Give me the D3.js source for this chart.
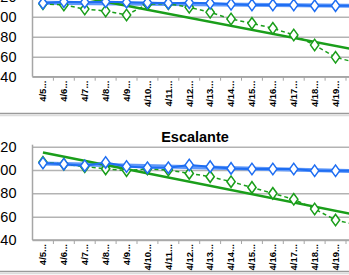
<!DOCTYPE html>
<html>
<head>
<meta charset="utf-8">
<script src="https://cdn.jsdelivr.net/npm/d3@7"></script>
<style>
  html, body { margin: 0; padding: 0; background: #fff; overflow: hidden; }
  svg { display: block; }
  .chart text { font-family: "Liberation Sans", Arial, sans-serif; }
</style>
</head>
<body>
<svg class="chart" width="349" height="275"></svg>
<script>
// categories (the labels are shown truncated, as in the sheet)
var categories = ["4/5", "4/6", "4/7", "4/8", "4/9", "4/10", "4/11", "4/12",
                  "4/13", "4/14", "4/15", "4/16", "4/17", "4/18", "4/19", "4/20"];
var yTicks = [40, 60, 80, 100, 120];

// top panel (title cut off)
var topBlue  = [113.4, 115, 114.5, 115, 114.5, 114, 113.5, 114, 113.4, 112.4, 111.7, 111.7, 111.7, 111, 111, 111];
var topGreen = [113, 111.7, 107.7, 105.7, 101.7, 112.5, 113, 109.4, 104.4, 97.7, 93.4, 88.4, 81.7, 71.7, 59.4, 54];
var topBlueTrend  = [114, 110.8];   // value at first / last category
var topGreenTrend = [127, 66.8];

// Escalante
var escBlue  = [106, 105, 103.7, 106.5, 103, 102, 102, 104.3, 102.9, 101.4, 100.9, 100.9, 100.9, 99.4, 99.4, 99.2];
var escGreen = [106.6, 105, 102.9, 101, 99.5, 101, 100, 97.1, 94.3, 90, 85.1, 80, 74.9, 66.6, 57.1, 53];
var escBlueTrend  = [105.5, 99];
var escGreenTrend = [115, 61.5];

var blue = "#1f6ef2", blueLight = "#5f98fa";
var green = "#1a9e1a";

var svg = d3.select(".chart");

function doChart(opts) {
	var margin = {left: 32.5};
	var bandW = 20.9;

	var x = d3.scaleBand()
		.domain(categories)
		.range([margin.left, margin.left + bandW * categories.length]);

	var y = d3.scaleLinear()
		.domain([40, 120])
		.range([opts.bottom, opts.top]);

	var g = svg.append("g");

	var clipId = "clip" + opts.id;
	g.append("clipPath").attr("id", clipId)
		.append("rect")
		.attr("x", margin.left).attr("y", opts.top)
		.attr("width", 400).attr("height", opts.bottom - opts.top);

	// gridlines + y labels
	g.append("g")
		.attr("transform", `translate(${margin.left},0)`)
		.call(d3.axisLeft(y).tickValues(yTicks).tickSize(0).tickPadding(16))
		.call(g => g.select(".domain").remove())
		.call(g => g.selectAll("text").attr("font-size", 14.5).attr("fill", "#000")
			.attr("font-family", "Liberation Sans, Arial, sans-serif"))
		.call(g => g.selectAll(".tick").append("line")
			.attr("x2", 400).attr("stroke", "#b3b3b3").attr("stroke-width", 1.5));

	// y axis line
	g.append("line")
		.attr("x1", margin.left).attr("x2", margin.left)
		.attr("y1", opts.top - 2).attr("y2", opts.bottom)
		.attr("stroke", "#a6a6a6").attr("stroke-width", 1.5);

	// x axis: ticks between categories, rotated labels
	var xg = g.append("g").attr("transform", `translate(0,${opts.bottom})`);
	xg.append("line").attr("x1", margin.left).attr("x2", 400)
		.attr("stroke", "#a6a6a6").attr("stroke-width", 1.5);
	xg.selectAll("line.tk").data(categories).enter().append("line")
		.attr("class", "tk")
		.attr("x1", d => x(d) + bandW).attr("x2", d => x(d) + bandW)
		.attr("y1", 0).attr("y2", 4)
		.attr("stroke", "#a6a6a6").attr("stroke-width", 1);
	xg.selectAll("text").data(categories).enter().append("text")
		.attr("transform", d => `translate(${x(d) + x.bandwidth() / 2},4) rotate(-90)`)
		.attr("text-anchor", "end")
		.attr("dy", "0.35em")
		.attr("font-size", 9.5)
		.attr("font-weight", "bold")
		.attr("fill", "#000")
		.text(d => d + "...");

	if (opts.title) {
		g.append("text")
			.attr("x", 195).attr("y", opts.top - 4.5)
			.attr("text-anchor", "middle")
			.attr("font-size", 14.5).attr("font-weight", "bold")
			.text(opts.title);
	}

	var cx = d => x(d) + x.bandwidth() / 2;
	var line = d3.line().x((d, i) => cx(categories[i])).y(d => y(d));
	var first = categories[0], last = categories[categories.length - 1];

	var plot = g.append("g").attr("clip-path", `url(#${clipId})`);

	// trend lines
	plot.append("line")
		.attr("x1", cx(first)).attr("x2", cx(last))
		.attr("y1", y(opts.blueTrend[0])).attr("y2", y(opts.blueTrend[1]))
		.attr("stroke", blueLight).attr("stroke-width", 4);
	plot.append("line")
		.attr("x1", cx(first)).attr("x2", cx(last))
		.attr("y1", y(opts.greenTrend[0])).attr("y2", y(opts.greenTrend[1]))
		.attr("stroke", green).attr("stroke-width", 2.5);

	// green dashed series
	plot.append("path").datum(opts.green)
		.attr("d", line).attr("fill", "none")
		.attr("stroke", green).attr("stroke-width", 1.5)
		.attr("stroke-dasharray", "4,3");
	var diamond = d3.symbol().type(d3.symbolDiamond).size(38);
	plot.selectAll("path.gm").data(opts.green).enter().append("path")
		.attr("class", "gm")
		.attr("d", diamond)
		.attr("transform", (d, i) => `translate(${cx(categories[i])},${y(d)}) scale(1.25,1)`)
		.attr("fill", "#fff").attr("stroke", green).attr("stroke-width", 1.3);

	// blue series
	plot.append("path").datum(opts.blue)
		.attr("d", line).attr("fill", "none")
		.attr("stroke", blue).attr("stroke-width", 2);
	plot.selectAll("path.bm").data(opts.blue).enter().append("path")
		.attr("class", "bm")
		.attr("d", diamond)
		.attr("transform", (d, i) => `translate(${cx(categories[i])},${y(d)}) scale(1.25,1)`)
		.attr("fill", "#fff").attr("stroke", blue).attr("stroke-width", 1.3);

	// chart border below
	svg.append("line")
		.attr("x1", 0).attr("x2", 349)
		.attr("y1", opts.border).attr("y2", opts.border)
		.attr("stroke", "#9a9a9a").attr("stroke-width", 1.5);
	svg.append("line")
		.attr("x1", 0).attr("x2", 349)
		.attr("y1", opts.border + 2).attr("y2", opts.border + 2)
		.attr("stroke", "#dcdcdc").attr("stroke-width", 1.5);
}

doChart({id: 1, top: -3.3, bottom: 76.7, border: 113.5,
	blue: topBlue, green: topGreen, blueTrend: topBlueTrend, greenTrend: topGreenTrend});
doChart({id: 2, top: 146.7, bottom: 240, border: 271.5, title: "Escalante",
	blue: escBlue, green: escGreen, blueTrend: escBlueTrend, greenTrend: escGreenTrend});
</script>
</body>
</html>
